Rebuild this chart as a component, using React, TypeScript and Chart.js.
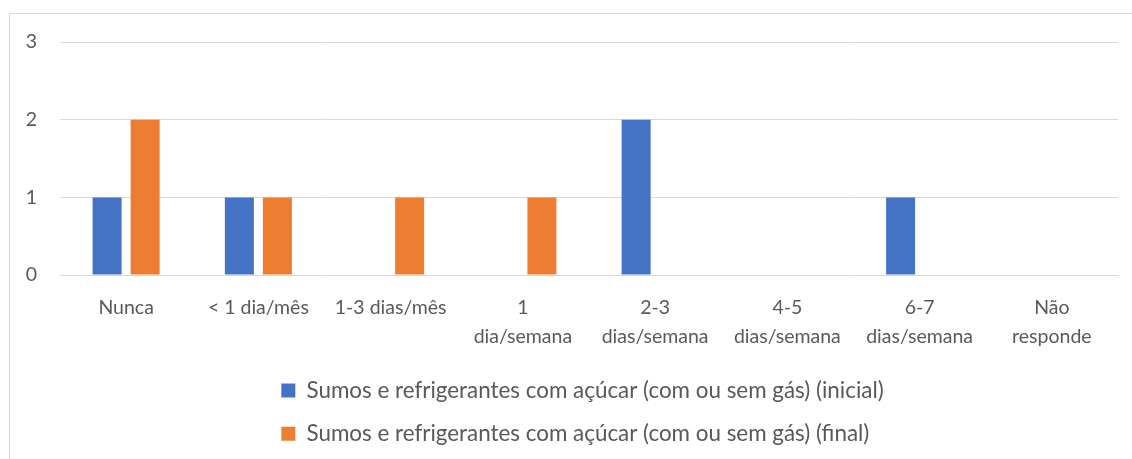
import React, { useEffect, useRef } from "react";
import { Chart, registerables } from "chart.js";

Chart.register(...registerables);

const categories: (string | string[])[] = [
  "Nunca",
  "< 1 dia/mês",
  "1-3 dias/mês",
  ["1", "dia/semana"],
  ["2-3", "dias/semana"],
  ["4-5", "dias/semana"],
  ["6-7", "dias/semana"],
  ["Não", "responde"],
];

const inicialValues = [1, 1, 0, 0, 2, 0, 1, 0];
const finalValues = [2, 1, 1, 1, 0, 0, 0, 0];

const seriesLabels = [
  "Sumos e refrigerantes com açúcar (com ou sem gás) (inicial)",
  "Sumos e refrigerantes com açúcar (com ou sem gás) (final)",
];

const yTicks = [0, 1, 2, 3];

const FONT = "Lato, 'Open Sans', sans-serif";
const TEXT = "#595959";

const alignLegendRows = {
  id: "alignLegendRows",
  afterUpdate(chart: any) {
    const lg = chart.legend;
    if (lg && lg.lineWidths && lg.lineWidths.length) {
      const m = Math.max(...lg.lineWidths) - 27;
      for (let i = 0; i < lg.lineWidths.length; i++) lg.lineWidths[i] = m;
    }
  },
};

export default function App() {
  const ref = useRef<HTMLCanvasElement | null>(null);

  useEffect(() => {
    if (!ref.current) return;
    const chart = new Chart(ref.current, {
      type: "bar",
      data: {
        labels: categories,
        datasets: [
          {
            label: seriesLabels[0],
            data: inicialValues,
            backgroundColor: "#4472C4",
            categoryPercentage: 0.575,
            barPercentage: 0.763,
          },
          {
            label: seriesLabels[1],
            data: finalValues,
            backgroundColor: "#ED7D31",
            categoryPercentage: 0.575,
            barPercentage: 0.763,
          },
        ],
      },
      plugins: [alignLegendRows],
      options: {
        animation: false,
        responsive: true,
        maintainAspectRatio: false,
        layout: { padding: { top: 28, left: 10, right: 14, bottom: 4 } },
        plugins: {
          tooltip: { enabled: false },
          legend: {
            position: "bottom",
            labels: {
              boxWidth: 14,
              boxHeight: 14,
              padding: 21,
              color: TEXT,
              font: { family: FONT, size: 22.4 },
            },
          },
        },
        scales: {
          x: {
            afterFit: (scale: any) => {
              scale.height = scale.height - 11;
            },
            grid: { display: false, drawTicks: false },
            border: { display: false },
            ticks: {
              color: TEXT,
              padding: 18,
              maxRotation: 0,
              autoSkip: false,
              font: { family: FONT, size: 19.5, lineHeight: 1.49 },
            },
          },
          y: {
            min: 0,
            max: 3,
            afterFit: (scale: any) => {
              scale.width = 40;
              scale.paddingTop = 0;
            },
            afterBuildTicks: (scale: any) => {
              scale.ticks = yTicks.map((v) => ({ value: v }));
            },
            grid: { color: "#d9d9d9", lineWidth: 1, drawTicks: false },
            border: { display: false },
            ticks: {
              color: TEXT,
              padding: 23,
              font: { family: FONT, size: 19.5 },
            },
          },
        },
      },
    });
    return () => chart.destroy();
  }, []);

  return (
    <div
      style={{
        position: "absolute",
        left: 9,
        top: 13,
        width: 1123,
        height: 446,
        boxSizing: "border-box",
        borderLeft: "1px solid #d9d9d9",
        borderTop: "1px solid #d9d9d9",
        background: "#fff",
      }}
    >
      <div style={{ position: "relative", width: 1122, height: 445 }}>
        <canvas ref={ref} />
      </div>
    </div>
  );
}
